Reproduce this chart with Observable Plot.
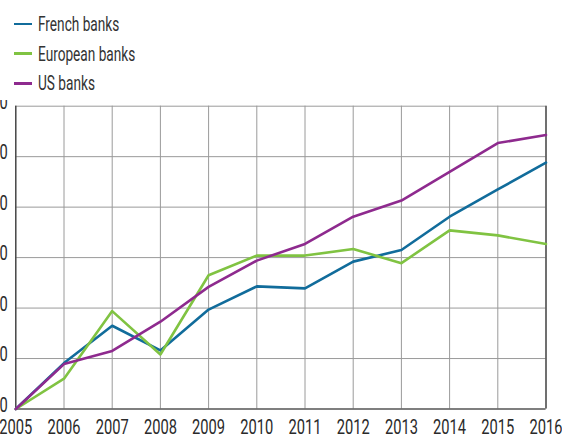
<!DOCTYPE html>
<html><head><meta charset="utf-8">
<script src="https://cdn.jsdelivr.net/npm/d3@7"></script>
<script src="https://cdn.jsdelivr.net/npm/@observablehq/plot@0.6"></script>
<style>
body{margin:0;background:#fff;font-family:Roboto,sans-serif;}
#legend{position:relative;height:100px;}
.item{position:absolute;left:14px;height:24px;display:flex;align-items:center;font-size:21px;color:#333;white-space:nowrap;}
.sw{width:18px;height:2.6px;margin-right:6px;flex:none;}
.lt{display:inline-block;transform:scaleX(0.65);transform-origin:left center;}
</style></head><body>
<div id="legend"></div><div id="chart"></div>
<script>
const years=[2005,2006,2007,2008,2009,2010,2011,2012,2013,2014,2015,2016];
const french=[0,9.1,16.5,11.6,19.7,24.3,23.9,29.2,31.5,38.1,43.5,48.8];
const european=[0,6.0,19.4,10.8,26.5,30.4,30.4,31.7,28.9,35.4,34.4,32.7];
const us=[0,8.9,11.5,17.3,24.2,29.4,32.7,38.1,41.3,47.0,52.7,54.3];
const seriesNames=["French banks","European banks","US banks"];
const colors=["#116c9b","#80c342","#8e2a8e"];
const yTicks=[0,10,20,30,40,50,60];

const seriesValues=[french,european,us];
const data=seriesNames.flatMap((s,i)=>years.map((y,j)=>({year:y,value:seriesValues[i][j],series:s})));

const legend=document.getElementById("legend");
const legendTops=[12,41.7,71.3];
seriesNames.forEach((s,i)=>{
  const it=document.createElement("div");
  it.className="item";
  it.style.top=legendTops[i]+"px";
  const sw=document.createElement("span");
  sw.className="sw";sw.style.background=colors[i];
  const t=document.createElement("span");t.className="lt";t.textContent=s;
  it.appendChild(sw);it.appendChild(t);
  legend.appendChild(it);
});

const font='Roboto,sans-serif';
const chart=Plot.plot({
  width:562,height:335,
  marginTop:5.7,marginBottom:26.5,marginLeft:15.3,marginRight:16.5,
  x:{domain:[2005,2016],label:null},
  y:{domain:[0,60],label:null},
  color:{domain:seriesNames,range:colors},
  style:{fontFamily:font,fontSize:"21px",color:"#2a2a2a",background:"#fff"},
  marks:[
    Plot.gridX(years,{stroke:"#9a9a9a",strokeOpacity:1}),
    Plot.gridY(yTicks,{stroke:"#9a9a9a",strokeOpacity:1}),
    Plot.ruleX([2005,2016],{stroke:"#333",strokeWidth:1.2}),
    Plot.ruleY([0],{stroke:"#333",strokeWidth:1.2}),
    Plot.line(data,{x:"year",y:"value",stroke:"series",strokeWidth:2.6}),
    Plot.axisX(years,{tickSize:0,tickPadding:10.5,tickFormat:d=>String(d),label:null,fontSize:21}),
    Plot.axisY(yTicks,{tickSize:0,tickPadding:8,label:null,fontSize:21,dy:-4})
  ]
});
chart.querySelectorAll('g[aria-label$="tick label"] text').forEach(t=>{
  let extra="";
  const xa=t.getAttribute("x"), ya=t.getAttribute("y");
  let x=0,y=0;
  if(xa!==null && !isNaN(+xa)){x=+xa;t.removeAttribute("x");}
  if(ya!==null && !isNaN(+ya)){y=+ya;t.removeAttribute("y");}
  const tr=t.getAttribute("transform")||"";
  t.setAttribute("transform",`${tr} translate(${x},${y}) scale(0.7,1)`);
});
document.getElementById("chart").appendChild(chart);
</script>
</body></html>
